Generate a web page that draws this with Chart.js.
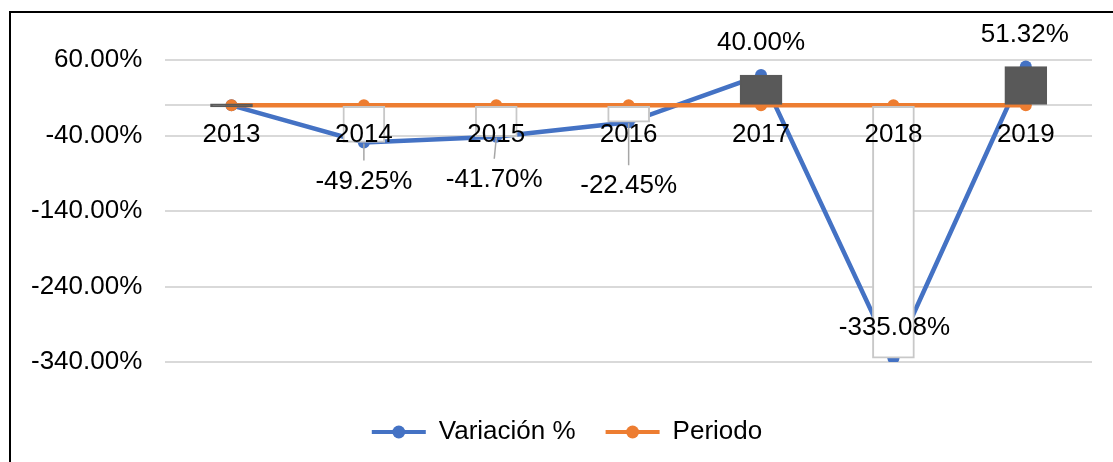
<!DOCTYPE html>
<html>
<head>
<meta charset="utf-8">
<script src="https://cdn.jsdelivr.net/npm/chart.js@4.4.1/dist/chart.umd.min.js"></script>
<style>
  html, body { margin: 0; padding: 0; background: #fff; }
  #marco { position: relative; width: 1113px; height: 462px; overflow: hidden; }
  #myChart { position: absolute; left: 0; top: 0; }
  #borde { position: absolute; left: 9px; top: 11px; width: 1200px; height: 500px;
           border-left: 2px solid #000; border-top: 2px solid #000; pointer-events: none; }
</style>
</head>
<body>
<div id="marco">
  <canvas id="myChart" width="1113" height="462"></canvas>
  <div id="borde"></div>
</div>
<script>
// datos
var periodos = ['2013', '2014', '2015', '2016', '2017', '2018', '2019'];
var variacion = [0, -49.25, -41.70, -22.45, 40.00, -335.08, 51.32];
var periodo = [0, 0, 0, 0, 0, 0, 0];
var ticksY = [60, -40, -140, -240, -340];

// posicion de las etiquetas respecto al punto (px)
var desplazamiento = [null, {dx: 0, dy: 39}, {dx: -2, dy: 43}, {dx: 0, dy: 64},
                      {dx: 0, dy: -32}, {dx: 1, dy: -30}, {dx: -1, dy: -32}];
var conGuia = [false, true, true, true, false, false, false];

var fuente = 'Liberation Sans, Arial, sans-serif';
var tam = 26;
var azul = '#4472C4';
var naranja = '#ED7D31';

// barras arriba/abajo entre las dos series
var barras = variacion.map(function(v, i) { return [v, periodo[i]]; });
var colorBarra = variacion.map(function(v, i) { return v >= periodo[i] ? '#595959' : '#ffffff'; });
var bordeBarra = variacion.map(function(v, i) { return v >= periodo[i] ? '#595959' : '#c8c8c8'; });

var etiquetas = {
  id: 'etiquetas',
  afterDatasetsDraw: function(chart) {
    var ctx = chart.ctx;
    var meta = chart.getDatasetMeta(0);
    ctx.save();
    ctx.font = tam + 'px ' + fuente;
    ctx.fillStyle = '#000';
    ctx.textAlign = 'center';
    ctx.textBaseline = 'middle';
    meta.data.forEach(function(p, i) {
      var d = desplazamiento[i];
      if (!d) return;
      var lx = p.x + d.dx;
      var ly = p.y + d.dy;
      if (conGuia[i]) {
        ctx.strokeStyle = '#a6a6a6';
        ctx.lineWidth = 1.5;
        ctx.beginPath();
        ctx.moveTo(p.x, p.y + 1);
        ctx.lineTo(lx, ly - 21);
        ctx.stroke();
      }
      ctx.fillText(variacion[i].toFixed(2) + '%', lx, ly);
    });
    ctx.restore();
  }
};

// baja la leyenda y dibuja el punto sobre la linea de cada serie
var leyenda = {
  id: 'leyenda',
  afterLayout: function(chart) {
    var leg = chart.legend;
    if (!leg) return;
    leg.top += 27;
    leg.bottom += 27;
    leg.left += 17;
    leg.right += 17;
  },
  afterDraw: function(chart) {
    var leg = chart.legend;
    if (!leg || !leg.legendHitBoxes) return;
    var ctx = chart.ctx;
    ctx.save();
    leg.legendHitBoxes.forEach(function(h, i) {
      ctx.fillStyle = leg.legendItems[i].fillStyle;
      ctx.beginPath();
      ctx.arc(h.left + 27, h.top + h.height / 2, 6.5, 0, Math.PI * 2);
      ctx.fill();
    });
    ctx.restore();
  }
};

var ctx = document.getElementById('myChart').getContext('2d');
var chart = new Chart(ctx, {
  type: 'line',
  data: {
    labels: periodos,
    datasets: [{
      label: 'Variación %',
      data: variacion,
      borderColor: azul,
      backgroundColor: azul,
      borderWidth: 4.5,
      pointRadius: 6,
      pointBorderWidth: 0,
      pointBackgroundColor: azul,
      tension: 0,
      order: 2
    }, {
      label: 'Periodo',
      data: periodo,
      borderColor: naranja,
      backgroundColor: naranja,
      borderWidth: 4.5,
      pointRadius: 6,
      pointBorderWidth: 0,
      pointBackgroundColor: naranja,
      tension: 0,
      order: 1
    }, {
      type: 'bar',
      label: 'barras',
      data: barras,
      backgroundColor: colorBarra,
      borderColor: bordeBarra,
      borderWidth: 2,
      borderSkipped: false,
      barThickness: 42,
      minBarLength: 3,
      order: 0
    }]
  },
  options: {
    responsive: false,
    animation: false,
    devicePixelRatio: 1,
    layout: { padding: { left: 8, right: 21, top: 60, bottom: 34 } },
    plugins: {
      tooltip: { enabled: false },
      legend: {
        position: 'bottom',
        labels: {
          color: '#000',
          font: { family: fuente, size: tam },
          boxWidth: 54,
          boxHeight: 4,
          padding: 30,
          filter: function(item) { return item.datasetIndex < 2; },
          sort: function(a, b) { return a.datasetIndex - b.datasetIndex; },
          generateLabels: function(chart) {
            var items = Chart.defaults.plugins.legend.labels.generateLabels(chart);
            items.forEach(function(it) { it.lineWidth = 0; });
            return items;
          }
        }
      }
    },
    scales: {
      x: {
        type: 'category',
        offset: true,
        position: { y: 0 },
        grid: { display: false, drawTicks: false },
        border: { display: false },
        ticks: { z: 1, color: '#000', font: { family: fuente, size: tam }, padding: 14,
                 maxRotation: 0, autoSkip: false }
      },
      y: {
        min: -340,
        max: 60,
        afterBuildTicks: function(axis) {
          axis.ticks = ticksY.concat([0]).map(function(v) { return { value: v }; });
        },
        grid: { color: '#d9d9d9', lineWidth: 2, drawTicks: false },
        border: { display: false },
        ticks: {
          color: '#000',
          font: { family: fuente, size: tam },
          padding: 23,
          callback: function(v) { return ticksY.indexOf(v) >= 0 ? v.toFixed(2) + '%' : ''; }
        }
      }
    }
  },
  plugins: [etiquetas, leyenda]
});
</script>
</body>
</html>
